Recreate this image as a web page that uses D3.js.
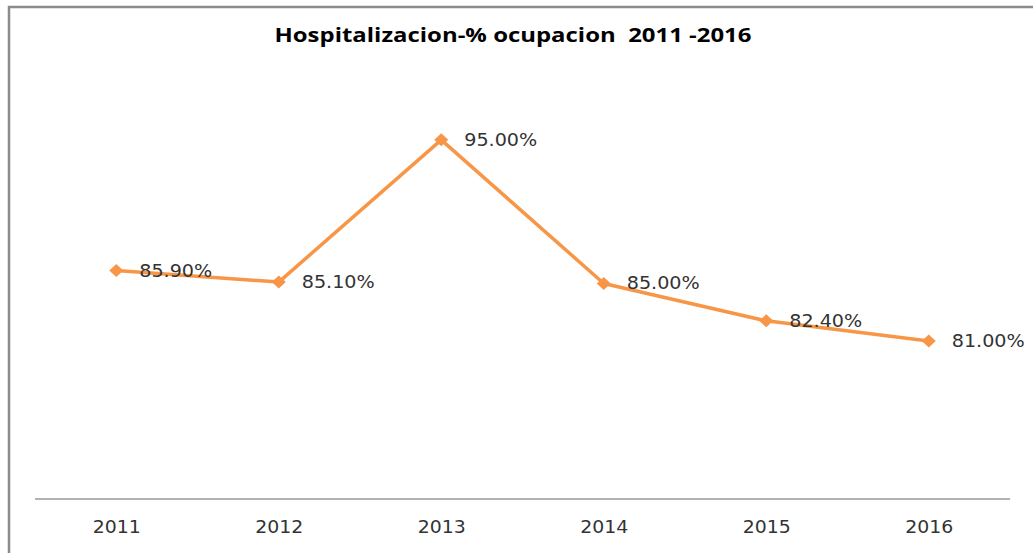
<!DOCTYPE html>
<html>
<head>
<meta charset="utf-8">
<script src="https://cdn.jsdelivr.net/npm/d3@7"></script>
<style>
  html, body { margin: 0; padding: 0; background: #fff; }
  svg { display: block; }
</style>
</head>
<body>
<svg width="1033" height="553"></svg>
<script>
// data
var years = ['2011', '2012', '2013', '2014', '2015', '2016'];
var ocupacion = [85.9, 85.1, 95.0, 85.0, 82.4, 81.0];
var etiquetas = ['85.90%', '85.10%', '95.00%', '85.00%', '82.40%', '81.00%'];
var titulo = 'Hospitalizacion-% ocupacion  2011 -2016';

var svg = d3.select('svg');

// outer chart frame (runs off the right and bottom edge)
svg.append('rect')
  .attr('x', 9).attr('y', 7)
  .attr('width', 1040).attr('height', 560)
  .attr('fill', 'none')
  .attr('stroke', '#8c8c8c')
  .attr('stroke-width', 2.5);

// the original picture is stretched sideways, so text gets a textLength
svg.append('text')
  .attr('x', 513).attr('y', 42)
  .attr('text-anchor', 'middle')
  .attr('font-family', 'Open Sans, sans-serif')
  .attr('font-weight', 'bold')
  .attr('font-size', 19)
  .attr('fill', '#000')
  .attr('textLength', 477)
  .attr('lengthAdjust', 'spacingAndGlyphs')
  .style('white-space', 'pre')
  .text(titulo);

var x = d3.scalePoint().domain(years).range([35, 1010]).padding(0.5);
var y = d3.scaleLinear().domain([70, 100]).range([499, 68]);

// x axis
var xAxis = svg.append('g')
  .attr('transform', 'translate(0,499)')
  .call(d3.axisBottom(x).tickSize(0).tickPadding(22));
xAxis.select('.domain')
  .attr('d', 'M35,0H1010')
  .attr('stroke', '#999')
  .attr('stroke-width', 1.5);
xAxis.selectAll('text')
  .attr('font-family', 'DejaVu Sans, sans-serif')
  .attr('font-size', 17)
  .attr('fill', '#333')
  .attr('textLength', 48)
  .attr('lengthAdjust', 'spacingAndGlyphs');

var line = d3.line()
  .x(function(d, i) { return x(years[i]); })
  .y(function(d) { return y(d); });

svg.append('path')
  .datum(ocupacion)
  .attr('d', line)
  .attr('fill', 'none')
  .attr('stroke', '#f79646')
  .attr('stroke-width', 3.5)
  .attr('stroke-linejoin', 'round');

svg.selectAll('.marca')
  .data(ocupacion)
  .enter().append('path')
  .attr('class', 'marca')
  .attr('transform', function(d, i) { return 'translate(' + x(years[i]) + ',' + y(d) + ')'; })
  .attr('d', 'M0,-6.5L7,0L0,6.5L-7,0Z')
  .attr('fill', '#f79646');

svg.selectAll('.etiqueta')
  .data(ocupacion)
  .enter().append('text')
  .attr('class', 'etiqueta')
  .attr('x', function(d, i) { return x(years[i]) + 23; })
  .attr('y', function(d) { return y(d); })
  .attr('dy', '0.35em')
  .attr('font-family', 'DejaVu Sans, sans-serif')
  .attr('font-size', 17)
  .attr('fill', '#333')
  .attr('textLength', 73)
  .attr('lengthAdjust', 'spacingAndGlyphs')
  .text(function(d, i) { return etiquetas[i]; });
</script>
</body>
</html>
